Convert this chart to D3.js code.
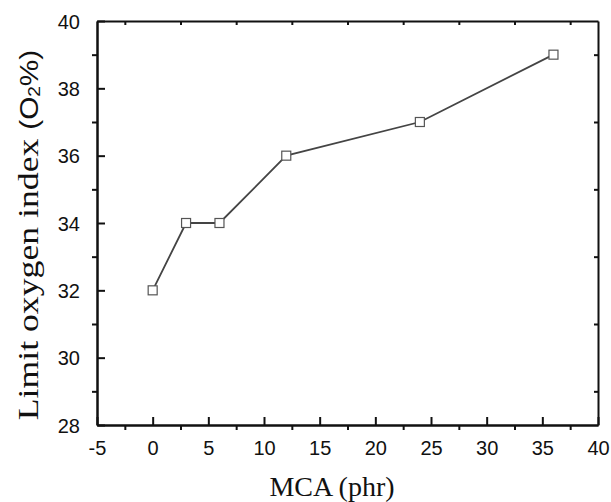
<!DOCTYPE html>
<html><head><meta charset="utf-8">
<script src="https://cdn.jsdelivr.net/npm/d3@7"></script>
<style>body{margin:0;background:#fff}svg{display:block}</style>
</head><body>
<script>
const mca = [0, 3, 6, 12, 24, 36];
const loi = [32, 34, 34, 36, 37, 39];
const xTicks = [-5, 0, 5, 10, 15, 20, 25, 30, 35, 40];
const yTicks = [28, 30, 32, 34, 36, 38, 40];
const xMinor = [-2.5, 2.5, 7.5, 12.5, 17.5, 22.5, 27.5, 32.5, 37.5];
const yMinor = [29, 31, 33, 35, 37, 39];

const W = 611, H = 502;
const m = {l: 97, r: 13, t: 21, b: 77};
const svg = d3.select("body").append("svg").attr("width", W).attr("height", H);
const x = d3.scaleLinear().domain([-5, 40]).range([m.l, W - m.r]);
const y = d3.scaleLinear().domain([28, 40]).range([H - m.b, m.t]);
const ink = "#111";
const fmt = d => String(d);

const gB = svg.append("g").attr("transform", `translate(0,${H - m.b})`);
gB.call(d3.axisBottom(x).tickValues(xTicks).tickFormat(fmt).tickSize(-8).tickPadding(16).tickSizeOuter(0));
gB.append("g").call(d3.axisBottom(x).tickValues(xMinor).tickSize(5).tickFormat("").tickSizeOuter(0));
const gL = svg.append("g").attr("transform", `translate(${m.l},0)`);
gL.call(d3.axisLeft(y).tickValues(yTicks).tickFormat(fmt).tickSize(-8).tickPadding(17).tickSizeOuter(0));
gL.append("g").call(d3.axisLeft(y).tickValues(yMinor).tickSize(5).tickFormat("").tickSizeOuter(0));
const gT = svg.append("g").attr("transform", `translate(0,${m.t})`);
gT.call(d3.axisTop(x).tickValues(xMinor).tickSize(-4).tickFormat("").tickSizeOuter(0));
const gR = svg.append("g").attr("transform", `translate(${W - m.r},0)`);
gR.call(d3.axisRight(y).tickValues(yMinor).tickSize(-4).tickFormat("").tickSizeOuter(0));

svg.selectAll(".domain").attr("stroke", ink).attr("stroke-width", 2);
svg.selectAll(".tick line").attr("stroke", ink).attr("stroke-width", 2);
svg.selectAll(".tick text").attr("font-family", "Liberation Sans, Arial, sans-serif")
  .attr("font-size", 20).attr("fill", ink);
gL.selectAll(".tick text").attr("dy", "0.35em");

const pts = mca.map((d, i) => [d, loi[i]]);
svg.append("path").datum(pts)
  .attr("fill", "none").attr("stroke", "#444").attr("stroke-width", 1.8)
  .attr("d", d3.line().x(d => x(d[0])).y(d => y(d[1])));
svg.selectAll("rect.pt").data(pts).enter().append("rect").attr("class", "pt")
  .attr("x", d => x(d[0]) - 4.5).attr("y", d => y(d[1]) - 4.5)
  .attr("width", 9).attr("height", 9)
  .attr("fill", "#fff").attr("stroke", "#555").attr("stroke-width", 1.2);

svg.append("text").attr("x", 332).attr("y", 496).attr("text-anchor", "middle")
  .attr("font-family", "Liberation Serif, Times New Roman, serif").attr("font-size", 28)
  .attr("fill", ink).text("MCA (phr)");
const yt = svg.append("text").attr("transform", "translate(38,235) rotate(-90) scale(1.19,1)")
  .attr("text-anchor", "middle").attr("fill", ink)
  .attr("font-family", "Liberation Serif, Times New Roman, serif").attr("font-size", 30);
yt.append("tspan").text("Limit oxygen index ");
const ys = yt.append("tspan").attr("font-family", "Liberation Sans, Arial, sans-serif").attr("font-size", 25);
ys.append("tspan").text("(O");
ys.append("tspan").attr("font-size", 16).attr("dy", 2).text("2");
ys.append("tspan").attr("dy", -2).text("%)");
</script>
</body></html>
